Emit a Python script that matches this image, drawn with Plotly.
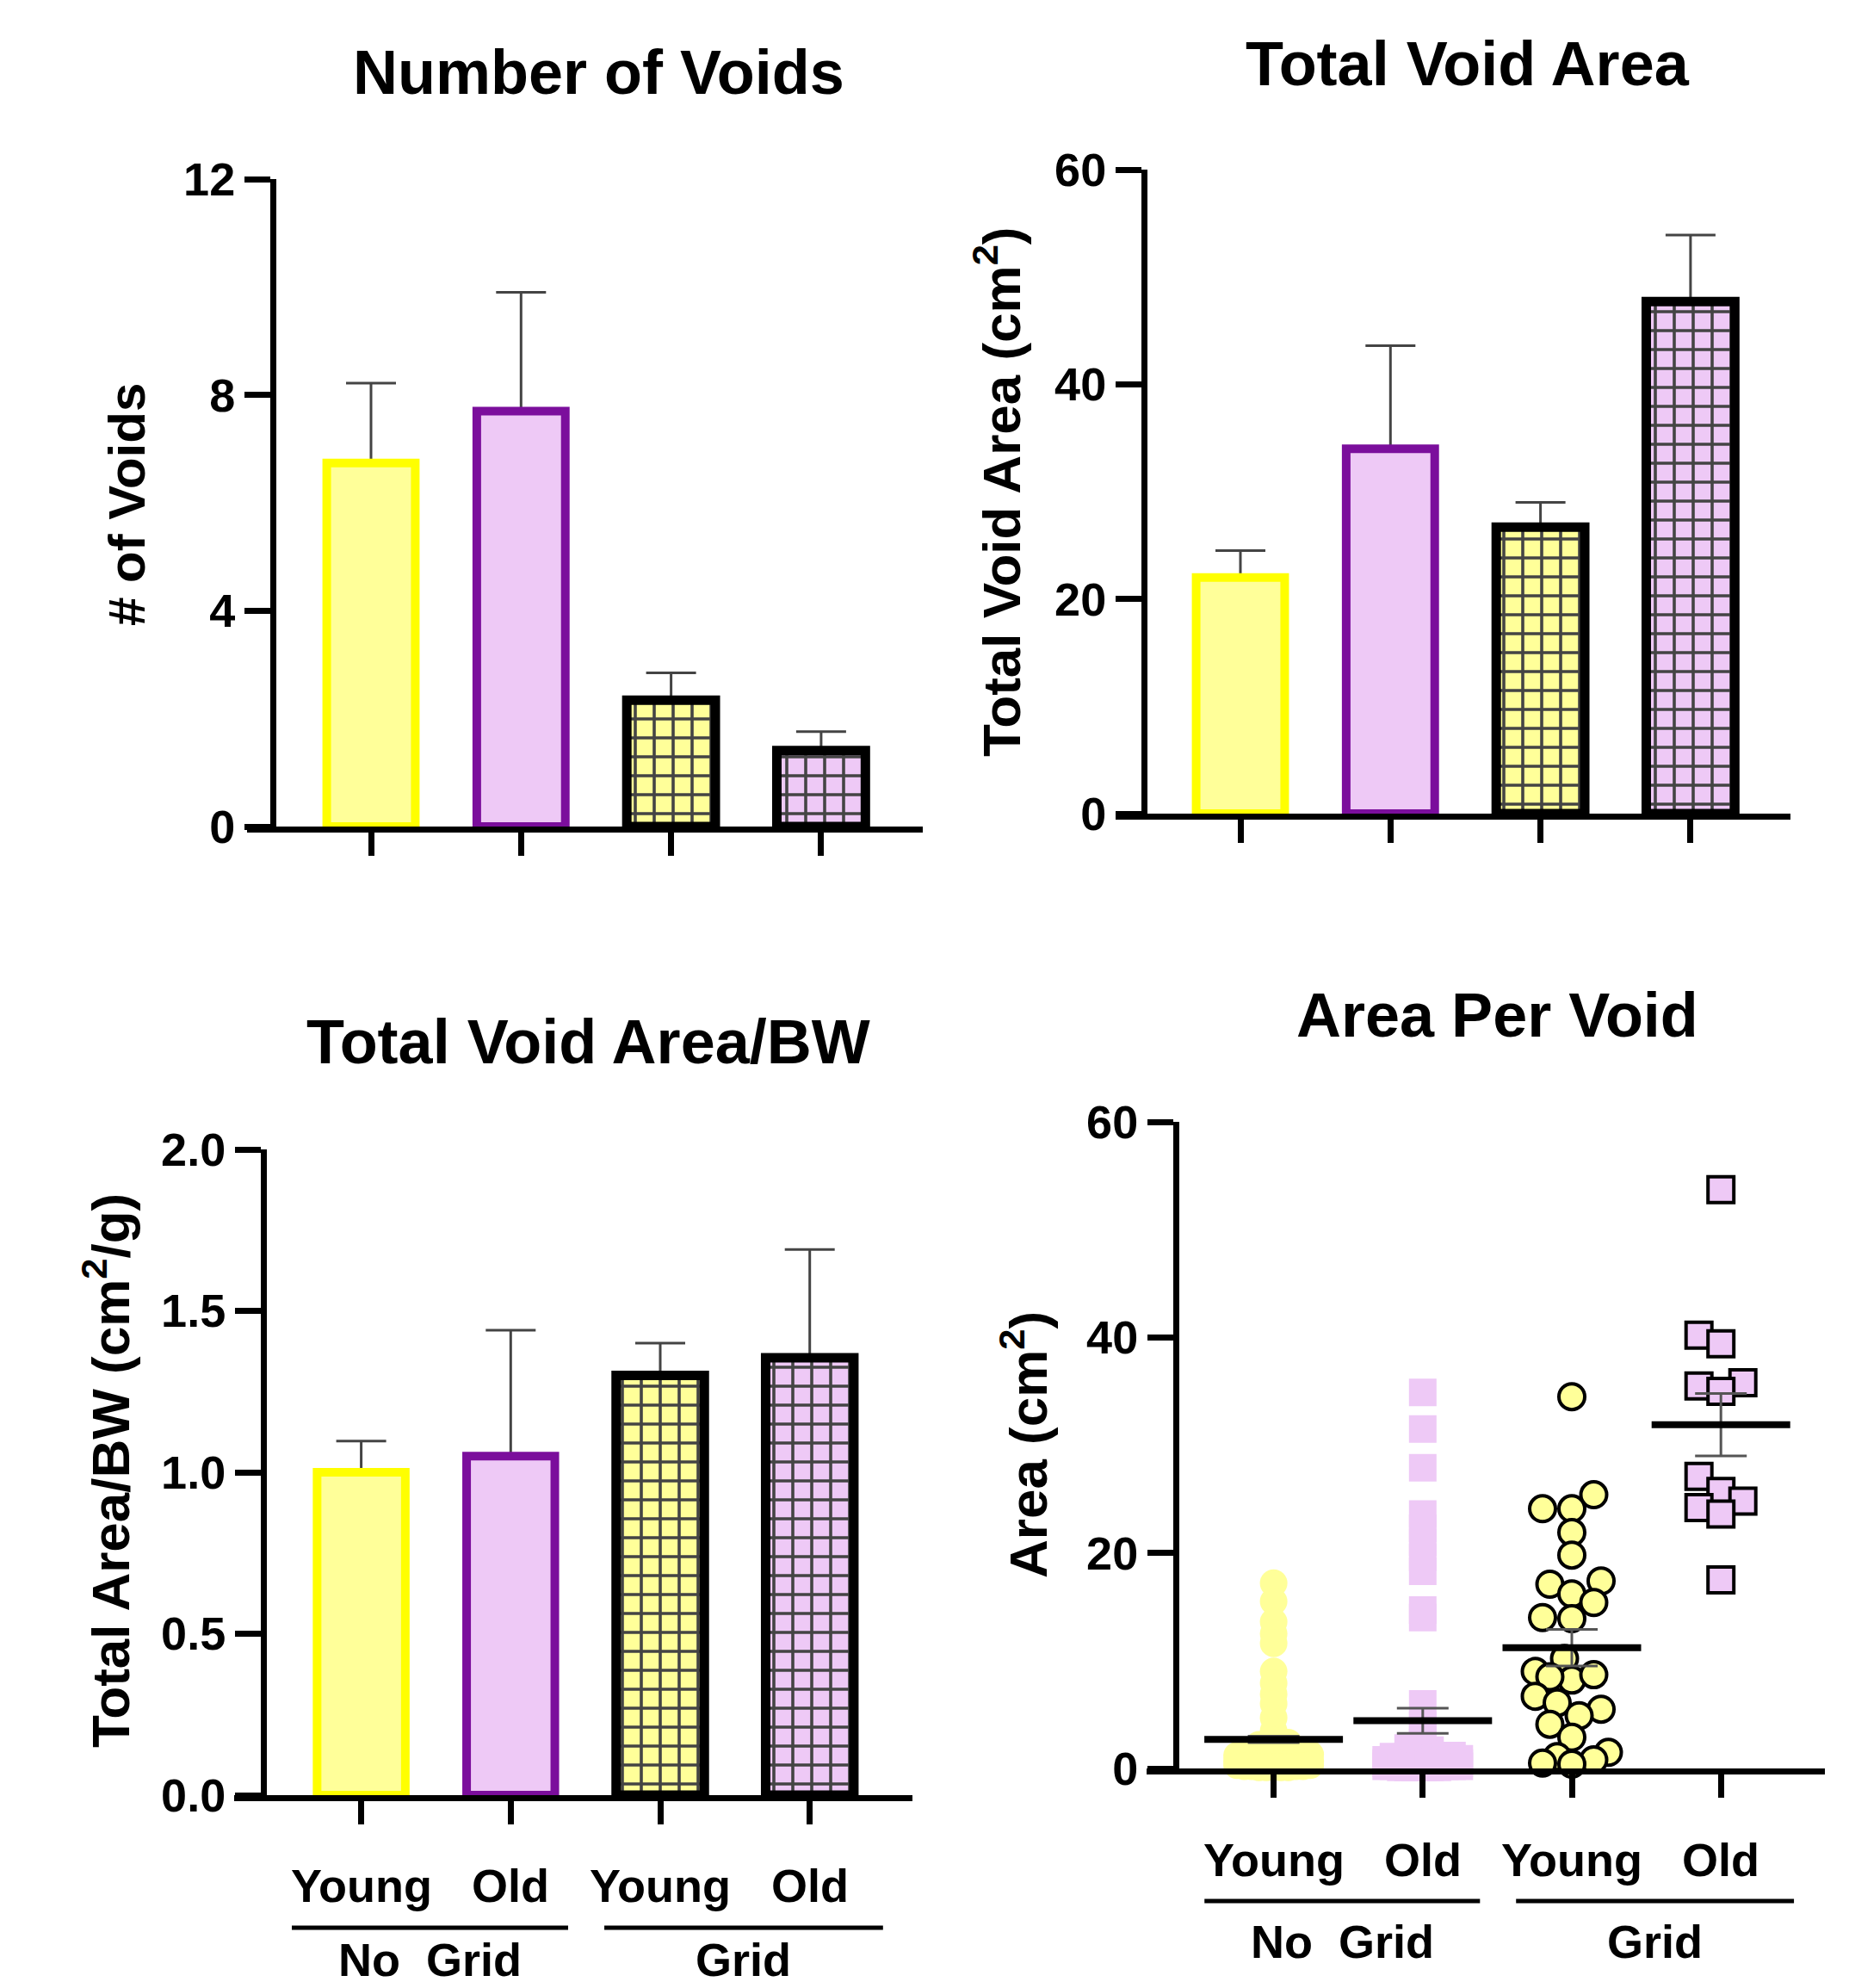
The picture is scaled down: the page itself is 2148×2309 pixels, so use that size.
import math
import plotly.graph_objects as go

# page body adds an 8px margin; figure is sized so it fits the window exactly
OFF = 8
W, H = 2148 - OFF, 2309 - OFF

# ---------------- data ----------------
categories = ["Young", "Old", "Young", "Old"]
groups = ["No\u00a0\u00a0Grid", "Grid"]

voids_mean = [6.74, 7.70, 2.34, 1.41]
voids_err = [1.48, 2.20, 0.51, 0.35]

area_mean = [22.0, 34.0, 26.7, 47.7]
area_err = [2.5, 9.6, 2.3, 6.2]

areabw_mean = [1.00, 1.05, 1.30, 1.355]
areabw_err = [0.097, 0.39, 0.10, 0.335]

young_nogrid = [17.2, 15.5, 13.6, 12.5, 11.6, 9.0, 7.9, 6.9, 6.0, 4.7, 3.5,
                2.6, 2.4, 2.2, 2.0, 1.9, 1.8, 1.6, 1.5, 1.4, 1.3, 1.3, 1.2, 1.1, 1.1,
                1.0, 1.0, 0.9, 0.9, 0.8, 0.8, 0.8, 0.7, 0.7, 0.6, 0.6, 0.6, 0.5, 0.5,
                0.5, 0.4, 0.4, 0.4, 0.3, 0.3, 0.3, 0.3, 0.2, 0.2, 0.2, 0.2, 0.1, 0.1,
                0.1, 0.1, 0.1]
old_nogrid = [34.9, 31.5, 27.9, 23.6, 22.3, 21.0, 19.6, 18.3, 14.7, 14.0, 6.0, 4.0,
              3.2, 2.4, 1.9, 1.7, 1.5, 1.3, 1.2, 1.1, 1.1, 1.0, 1.0, 0.9, 0.9, 0.9,
              0.8, 0.8, 0.8, 0.7, 0.7, 0.7, 0.6, 0.6, 0.6, 0.6, 0.5, 0.5, 0.5, 0.5,
              0.4, 0.4, 0.4, 0.4, 0.3, 0.3, 0.3, 0.3, 0.3, 0.2, 0.2, 0.2, 0.2, 0.2,
              0.1, 0.1, 0.1, 0.1, 0.1, 0.1]
young_grid = [34.5, 25.4, 24.1, 24.1, 21.9, 19.8, 17.4, 17.1, 16.2, 15.4, 14.0, 13.9,
              10.2, 9.0, 8.2, 8.7, 8.5, 6.7, 6.1, 5.5, 4.1, 4.9, 2.9, 1.5, 1.1, 0.5,
              0.8, 0.4]
old_grid = [53.7, 40.2, 39.4, 35.8, 35.5, 35.0, 27.1, 25.7, 24.8, 24.2, 23.6, 17.5]

per_void_mean = [2.69, 4.43, 11.2, 31.9]
per_void_sem = [0.3, 1.17, 1.7, 2.9]

titles = ["Number of Voids", "Total Void Area", "Total Void Area/BW", "Area Per Void"]
ytitles = ["# of Voids", "Total Void Area (cm<sup>2</sup>)",
           "Total Area/BW (cm<sup>2</sup>/g)", "Area (cm<sup>2</sup>)"]
yticks = [[0, 4, 8, 12], [0, 20, 40, 60], [0, 0.5, 1.0, 1.5, 2.0], [0, 20, 40, 60]]
yticktext = [["0", "4", "8", "12"], ["0", "20", "40", "60"],
             ["0.0", "0.5", "1.0", "1.5", "2.0"], ["0", "20", "40", "60"]]
yranges = [[0, 12], [0, 60], [0, 2.0], [0, 60]]

# ---------------- style ----------------
YEL_EDGE = "#FFFF00"
YEL_FILL = "#FFFF99"
PUR_EDGE = "#7B0E9C"
PUR_FILL = "#EEC9F6"
FONT = "Liberation Sans"

fills = [YEL_FILL, PUR_FILL, YEL_FILL, PUR_FILL]
edges = [YEL_EDGE, PUR_EDGE, "black", "black"]
edge_w = [10, 10, 11, 11]
patterns = ["", "", "+", "+"]

# panel layout in (reference) pixels
panels = [
    dict(xl=287, xr=1072, yx=317, yb=960, yt=208, cat0=431, step=174.3),
    dict(xl=1296, xr=2080, yx=1329, yb=945, yt=197, cat0=1441, step=174.3),
    dict(xl=272, xr=1060, yx=306, yb=2085, yt=1335, cat0=419.6, step=173.7),
    dict(xl=1332, xr=2120, yx=1366, yb=2054, yt=1303, cat0=1479.6, step=173.2),
]
title_pos = [(695, 84), (1705, 74), (683, 1210), (1739, 1179)]
ytitle_pos = [(147, 586), (1159, 571), (124, 1708), (1190, 1678)]

fig = go.Figure()
layout = dict(width=W, height=H, margin=dict(l=0, r=0, t=0, b=0, pad=0),
              paper_bgcolor="white", plot_bgcolor="white", showlegend=False,
              barmode="overlay", annotations=[], shapes=[], template="none")

def px(xp):
    return (xp - OFF) / W

def py(yp):
    return 1 - (yp - OFF) / H

for k, p in enumerate(panels):
    sfx = "" if k == 0 else str(k + 1)
    xr0 = -(p["cat0"] - p["xl"]) / p["step"]
    xr1 = 3 + (p["xr"] - (p["cat0"] + 3 * p["step"])) / p["step"]
    layout["xaxis" + sfx] = dict(
        domain=[px(p["xl"]), px(p["xr"])], range=[xr0, xr1], anchor="y" + sfx,
        showline=True, linecolor="black", linewidth=7, showgrid=False, zeroline=False,
        tickvals=[0, 1, 2, 3], showticklabels=False, ticks="outside",
        ticklen=27, tickwidth=7, tickcolor="black", fixedrange=True, automargin=False)
    layout["yaxis" + sfx] = dict(
        domain=[py(p["yb"]), py(p["yt"])], range=yranges[k], anchor="free",
        position=px(p["yx"]), showline=True, linecolor="black", linewidth=7,
        showgrid=False, zeroline=False, tickvals=yticks[k], ticktext=yticktext[k],
        ticks="outside", ticklen=30, tickwidth=7, tickcolor="black",
        tickfont=dict(family=FONT, size=54, color="black", weight="bold"),
        fixedrange=True, automargin=False)
    layout["annotations"].append(dict(
        text="<b>" + titles[k] + "</b>", x=px(title_pos[k][0]), y=py(title_pos[k][1]),
        xref="paper", yref="paper", showarrow=False, xanchor="center", yanchor="middle",
        font=dict(family=FONT, size=72, color="black")))
    layout["annotations"].append(dict(
        text="<b>" + ytitles[k] + "</b>", x=px(ytitle_pos[k][0]), y=py(ytitle_pos[k][1]),
        xref="paper", yref="paper", showarrow=False, textangle=-90,
        xanchor="center", yanchor="middle",
        font=dict(family=FONT, size=62 if k else 60, color="black")))

# ---------------- bar panels ----------------
bar_data = [(voids_mean, voids_err), (area_mean, area_err), (areabw_mean, areabw_err)]
for k, (means, errs) in enumerate(bar_data):
    sfx = "" if k == 0 else str(k + 1)
    xs = list(range(len(categories)))
    # error bars drawn beneath the bars so only the upper whisker shows
    fig.add_trace(go.Bar(
        x=xs, y=means, width=0.59, xaxis="x" + sfx, yaxis="y" + sfx,
        marker=dict(color="rgba(0,0,0,0)", line=dict(width=0)),
        error_y=dict(type="data", array=errs, symmetric=True, color="#444444",
                     thickness=3, width=29),
        hoverinfo="skip"))
    fig.add_trace(go.Bar(
        x=xs, y=means, width=0.59, xaxis="x" + sfx, yaxis="y" + sfx,
        marker=dict(color=fills, line=dict(color=edges, width=edge_w),
                    pattern=dict(shape=patterns, size=22, solidity=0.3,
                                 fillmode="overlay", fgcolor="black", fgopacity=1))))

# ---------------- scatter panel ----------------
def swarm(values, diam, ppu_y, ppu_x, step, nmax, thresh):
    cands = sorted([j * step for j in range(-nmax, nmax + 1)], key=lambda c: (abs(c), c))
    order = sorted(range(len(values)), key=lambda i: values[i])
    placed = []
    out = [0.0] * len(values)
    for i in order:
        yv = values[i] * ppu_y
        chosen, best_c, best_d = None, 0.0, -1.0
        for c in cands:
            dmin = min((math.hypot(c - a, yv - b) for a, b in placed), default=1e9)
            if dmin >= thresh * diam:
                chosen = c
                break
            if dmin > best_d + 0.5:
                best_d, best_c = dmin, c
        if chosen is None:
            chosen = best_c
        placed.append((chosen, yv))
        out[i] = chosen / ppu_x
    return out

p4 = panels[3]
ppu_y4 = (p4["yb"] - p4["yt"]) / 60.0
series4 = [
    (young_nogrid, "circle", YEL_FILL, 0, 0.25),
    (old_nogrid, "square", PUR_FILL, 0, 0.25),
    (young_grid, "circle", YEL_FILL, 4, 0.8),
    (old_grid, "square", PUR_FILL, 4, 0.8),
]
for i, (vals, sym, col, lw, th) in enumerate(series4):
    offs = swarm(vals, 32, ppu_y4, p4["step"], 8.5, 5, th)
    fig.add_trace(go.Scatter(
        x=[i + o for o in offs], y=vals, mode="markers", xaxis="x4", yaxis="y4",
        cliponaxis=False,
        marker=dict(symbol=sym, size=30 if lw else 32, color=col,
                    line=dict(color="black", width=lw))))

fig.add_trace(go.Scatter(
    x=list(range(len(categories))), y=per_void_mean, mode="markers",
    xaxis="x4", yaxis="y4", cliponaxis=False,
    marker=dict(symbol="line-ew", size=115, color="black",
                line=dict(color="black", width=8)),
    error_y=dict(type="data", array=per_void_sem, color="#555555", thickness=3, width=30)))

# ---------------- category labels ----------------
lab_y = {2: (2190, 2239, 2276), 3: (2160, 2208, 2255)}
spans = [(-0.464, 1.384), (1.626, 3.49)]
for k, (ylab, yline, ygrp) in lab_y.items():
    xa = "x" + str(k + 1)
    for i, c in enumerate(categories):
        layout["annotations"].append(dict(
            text="<b>" + c + "</b>", x=i, y=py(ylab), xref=xa, yref="paper",
            showarrow=False, xanchor="center", yanchor="middle",
            font=dict(family=FONT, size=54, color="black")))
    for g, (a, b) in zip(groups, spans):
        layout["shapes"].append(dict(type="line", xref=xa, yref="paper",
                                     x0=a, x1=b, y0=py(yline), y1=py(yline),
                                     line=dict(color="black", width=5)))
        layout["annotations"].append(dict(
            text="<b>" + g + "</b>", x=(a + b) / 2, y=py(ygrp), xref=xa, yref="paper",
            showarrow=False, xanchor="center", yanchor="middle",
            font=dict(family=FONT, size=54, color="black")))

fig.update_layout(**layout)
fig.write_html("out.html")
